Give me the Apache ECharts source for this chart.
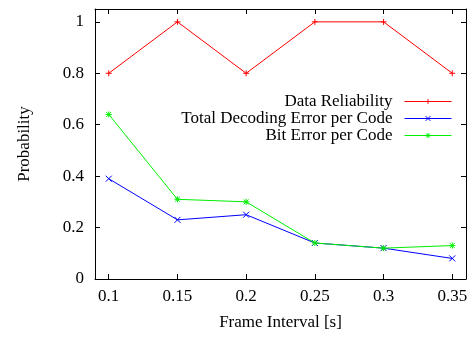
<!DOCTYPE html>
<html>
<head>
<meta charset="utf-8">
<script src="https://cdn.jsdelivr.net/npm/echarts@6/dist/echarts.min.js"></script>
<style>
  html, body { margin: 0; padding: 0; background: #fff; }
  #chart { width: 473px; height: 338px; }
</style>
</head>
<body>
<div id="chart"></div>
<script>
// Frame interval (s) on the x axis
const frameIntervals = [0.1, 0.15, 0.2, 0.25, 0.3, 0.35];
// Probabilities for each series
const dataReliability = [0.8, 1.0, 0.8, 1.0, 1.0, 0.8];
const totalDecodingError = [0.39, 0.23, 0.25, 0.14, 0.12, 0.08];
const bitError = [0.64, 0.31, 0.30, 0.14, 0.12, 0.13];
// Tick positions
const xTicks = [0.1, 0.15, 0.2, 0.25, 0.3, 0.35];
const yTicks = [0, 0.2, 0.4, 0.6, 0.8, 1];

const FONT = '"Liberation Serif", "DejaVu Serif", serif';

const SYM_PLUS = 'path://M0,5L10,5M5,0L5,10';
const SYM_CROSS = 'path://M0,0L10,10M10,0L0,10';
const SYM_STAR = 'path://M0,5L10,5M5,0L5,10M1,1L9,9M9,1L1,9';

function pairs(ys) {
  return frameIntervals.map((x, i) => [x, ys[i]]);
}

function lineSeries(name, ys, color, symbol) {
  return {
    name: name,
    type: 'line',
    data: pairs(ys),
    xAxisIndex: 0,
    yAxisIndex: 0,
    symbol: symbol,
    symbolSize: 6,
    showSymbol: true,
    color: color,
    lineStyle: { color: color, width: 1 },
    itemStyle: { color: color, borderColor: color, borderWidth: 1 },
    emphasis: { disabled: true },
    animation: false
  };
}

const baseX = {
  type: 'value',
  min: 0.09,
  max: 0.36,
  splitLine: { show: false },
  axisLine: { show: true, onZero: false, lineStyle: { color: '#000', width: 1 } },
  axisTick: { show: true, inside: true, length: 5, customValues: xTicks, lineStyle: { color: '#000' } }
};
const baseY = {
  type: 'value',
  min: 0,
  max: 1.05,
  splitLine: { show: false },
  axisLine: { show: true, onZero: false, lineStyle: { color: '#000', width: 1 } },
  axisTick: { show: true, inside: true, length: 5, customValues: yTicks, lineStyle: { color: '#000' } }
};

const chart = echarts.init(document.getElementById('chart'), null, { renderer: 'canvas' });
chart.setOption({
  backgroundColor: '#fff',
  animation: false,
  textStyle: { fontFamily: FONT, color: '#000' },
  grid: { left: 95, right: 7, top: 9, bottom: 59, containLabel: false },
  legend: {
    orient: 'vertical',
    align: 'right',
    right: 16,
    top: 88,
    itemWidth: 47,
    itemHeight: 6,
    itemGap: 0,
    selectedMode: false,
    lineStyle: { width: 1 },
    itemStyle: { borderWidth: 1 },
    textStyle: { fontFamily: FONT, fontSize: 17, color: '#000', lineHeight: 17, padding: [0, 7, 0, 0] },
    data: ['Data Reliability', 'Total Decoding Error per Code', 'Bit Error per Code']
  },
  xAxis: [
    Object.assign({}, baseX, {
      position: 'bottom',
      name: 'Frame Interval [s]',
      nameLocation: 'middle',
      nameGap: 35,
      nameTextStyle: { fontFamily: FONT, fontSize: 17, color: '#000' },
      axisLabel: { show: true, customValues: xTicks, margin: 9, fontFamily: FONT, fontSize: 17, color: '#000' }
    }),
    Object.assign({}, baseX, { position: 'top', axisLabel: { show: false } })
  ],
  yAxis: [
    Object.assign({}, baseY, {
      position: 'left',
      name: 'Probability',
      nameLocation: 'middle',
      nameGap: 62,
      nameTextStyle: { fontFamily: FONT, fontSize: 17, color: '#000' },
      axisLabel: { show: true, customValues: yTicks, margin: 11, fontFamily: FONT, fontSize: 17, color: '#000' }
    }),
    Object.assign({}, baseY, { position: 'right', axisLabel: { show: false } })
  ],
  series: [
    lineSeries('Data Reliability', dataReliability, '#ff0000', SYM_PLUS),
    lineSeries('Total Decoding Error per Code', totalDecodingError, '#0000ff', SYM_CROSS),
    lineSeries('Bit Error per Code', bitError, '#00ee00', SYM_STAR)
  ]
});
</script>
</body>
</html>
